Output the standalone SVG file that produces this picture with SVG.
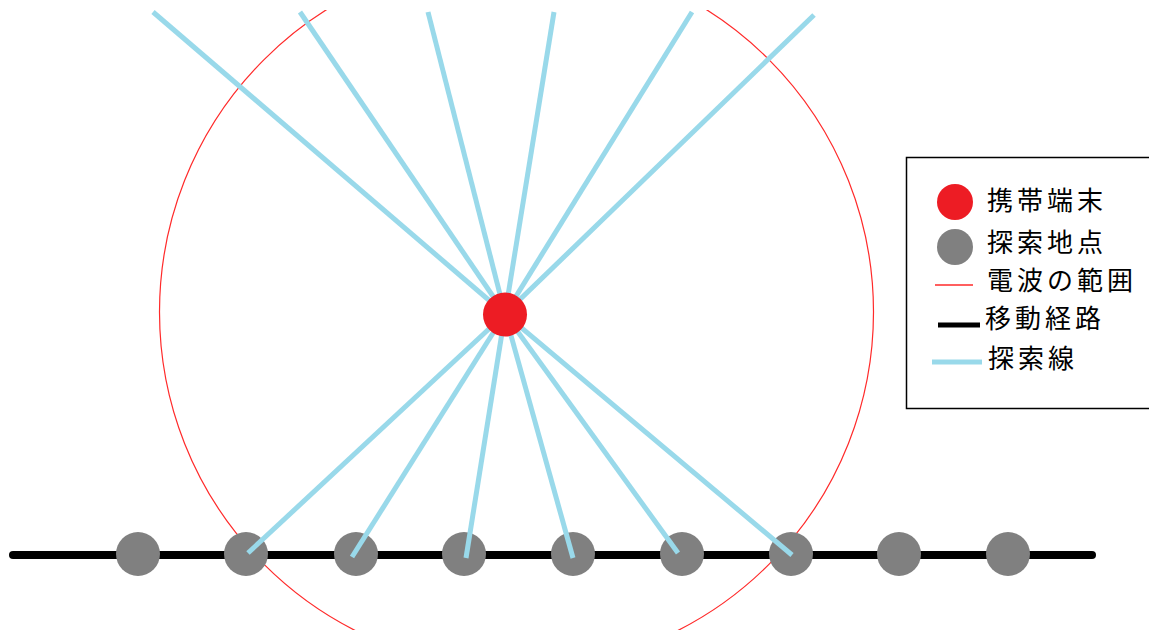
<svg xmlns="http://www.w3.org/2000/svg" width="1149" height="630" viewBox="0 0 1149 630">
  <style>
    .probe { stroke: #99D9EA; stroke-width: 5; fill: none; stroke-linecap: butt; }
    .route { stroke: #000000; stroke-width: 8; stroke-linecap: round; fill: none; }
    .range { stroke: #FF2A2A; stroke-width: 1.2; fill: none; }
    .point { fill: #808080; }
    .terminal { fill: #ED1C24; }
    .label { font-family: "Noto Sans CJK JP", "Noto Sans CJK SC", sans-serif; font-size: 26px; letter-spacing: 4px; fill: #000000; }
  </style>
  <defs>
    <clipPath id="frame">
      <rect x="0" y="10" width="1149" height="620"/>
    </clipPath>
  </defs>
  <rect x="0" y="0" width="1149" height="630" fill="#FFFFFF"/>

  <g id="radio-range" clip-path="url(#frame)">
    <circle class="range" cx="516.5" cy="312" r="357"/>
  </g>

  <g id="route">
    <line class="route" x1="13" y1="555" x2="1092" y2="555"/>
  </g>

  <g id="search-points">
    <circle class="point" cx="138" cy="554" r="22"/>
    <circle class="point" cx="246" cy="554" r="22"/>
    <circle class="point" cx="356" cy="554" r="22"/>
    <circle class="point" cx="464" cy="554" r="22"/>
    <circle class="point" cx="573" cy="554" r="22"/>
    <circle class="point" cx="682" cy="554" r="22"/>
    <circle class="point" cx="791" cy="554" r="22"/>
    <circle class="point" cx="899" cy="554" r="22"/>
    <circle class="point" cx="1008" cy="554" r="22"/>
  </g>

  <g id="connectors">
    <line class="probe" x1="505" y1="314" x2="153" y2="12"/>
    <line class="probe" x1="505" y1="314" x2="300" y2="12"/>
    <line class="probe" x1="505" y1="314" x2="428" y2="12"/>
    <line class="probe" x1="505" y1="314" x2="554" y2="12"/>
    <line class="probe" x1="505" y1="314" x2="692" y2="12"/>
    <line class="probe" x1="505" y1="314" x2="814" y2="15"/>
    <line class="probe" x1="505" y1="314" x2="248" y2="553"/>
    <line class="probe" x1="505" y1="314" x2="352" y2="557"/>
    <line class="probe" x1="505" y1="314" x2="466" y2="558"/>
    <line class="probe" x1="505" y1="314" x2="573" y2="558"/>
    <line class="probe" x1="505" y1="314" x2="678" y2="553"/>
    <line class="probe" x1="505" y1="314" x2="792" y2="555"/>
  </g>

  <g id="mobile-terminal">
    <circle class="terminal" cx="505" cy="314.5" r="22"/>
  </g>

  <g id="legend">
    <rect x="906.5" y="157.5" width="260" height="251" fill="#FFFFFF" stroke="#000000" stroke-width="1.5"/>
    <circle class="terminal" cx="955" cy="202" r="18"/>
    <text class="label" x="987" y="210">携帯端末</text>
    <circle class="point" cx="955" cy="247" r="18"/>
    <text class="label" x="987" y="252">探索地点</text>
    <line x1="935" y1="285" x2="973" y2="285" stroke="#FF2A2A" stroke-width="1.5"/>
    <text class="label" x="987" y="290">電波の範囲</text>
    <line x1="938" y1="325" x2="980" y2="325" stroke="#000000" stroke-width="5"/>
    <text class="label" x="985" y="328">移動経路</text>
    <line x1="932" y1="362" x2="982" y2="362" stroke="#99D9EA" stroke-width="5"/>
    <text class="label" x="988" y="368">探索線</text>
  </g>
</svg>
